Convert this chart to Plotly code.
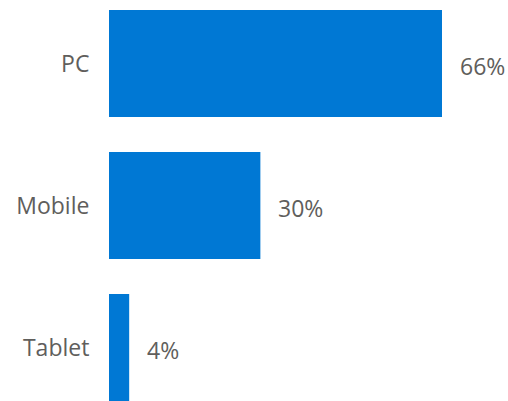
import plotly.graph_objects as go

categories = ["PC", "Mobile", "Tablet"]
values = [66, 30, 4]
labels = ["66%", "30%", "4%"]

BAR_COLOR = "#0078D4"
TEXT_COLOR = "#605E5C"
FONT = "Open Sans"

fig = go.Figure()
fig.add_trace(go.Bar(
    x=values,
    y=categories,
    orientation="h",
    marker=dict(color=BAR_COLOR, line=dict(width=0)),
    hoverinfo="skip",
))

for v, c, t in zip(values, categories, labels):
    fig.add_annotation(
        x=v, y=c, text=t, showarrow=False,
        xanchor="left", yanchor="middle",
        xshift=16, yshift=-3,
        font=dict(family=FONT, size=23, color=TEXT_COLOR),
    )

fig.update_layout(
    width=508, height=401,
    margin=dict(l=109, r=0, t=0, b=0),
    paper_bgcolor="white", plot_bgcolor="white",
    bargap=0.246,
    showlegend=False,
    font=dict(family=FONT, size=23, color=TEXT_COLOR),
    xaxis=dict(range=[0, 79.08], visible=False, fixedrange=True),
    yaxis=dict(
        type="category",
        categoryorder="array", categoryarray=categories,
        range=[2.377, -0.447],
        showgrid=False, zeroline=False, showline=False,
        automargin=False,
        ticks="outside", ticklen=14, tickcolor="rgba(0,0,0,0)",
        tickfont=dict(family=FONT, size=23, color=TEXT_COLOR),
    ),
)

fig.write_html(
    "out.html",
    config={"displayModeBar": False},
    post_script="document.body.style.margin='0';document.body.style.overflow='hidden';",
)
